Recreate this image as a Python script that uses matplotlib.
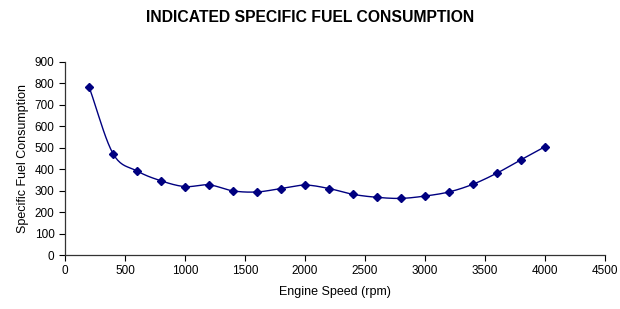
import numpy as np
import matplotlib
matplotlib.use("Agg")
import matplotlib.pyplot as plt

speed_rpm = [200, 400, 600, 800, 1000, 1200, 1400, 1600, 1800, 2000,
             2200, 2400, 2600, 2800, 3000, 3200, 3400, 3600, 3800, 4000]
sfc = [785, 473, 392, 346, 319, 327, 299, 294, 310, 326,
       310, 283, 269, 264, 275, 294, 330, 382, 444, 505]
x_ticks = list(range(0, 4501, 500))
y_ticks = list(range(0, 901, 100))

plt.rcParams['font.family'] = ['Liberation Sans', 'DejaVu Sans']


def smooth(xs, ys, n=20):
    # Catmull-Rom style curve through the points (Excel "smoothed line")
    xs = np.asarray(xs, float); ys = np.asarray(ys, float)
    px = np.concatenate([[2*xs[0]-xs[1]], xs, [2*xs[-1]-xs[-2]]])
    py = np.concatenate([[2*ys[0]-ys[1]], ys, [2*ys[-1]-ys[-2]]])
    ox, oy = [], []
    t = np.linspace(0, 1, n, endpoint=False)
    for i in range(1, len(px)-2):
        for arr, out in ((px, ox), (py, oy)):
            p0, p1, p2, p3 = arr[i-1], arr[i], arr[i+1], arr[i+2]
            c1 = p1 + (p2 - p0) / 6
            c2 = p2 - (p3 - p1) / 6
            out.extend((1-t)**3*p1 + 3*(1-t)**2*t*c1 + 3*(1-t)*t**2*c2 + t**3*p2)
    ox.append(xs[-1]); oy.append(ys[-1])
    return ox, oy


fig = plt.figure(figsize=(6.2, 3.09), dpi=100)
ax = fig.add_axes([65/620, 1-255/309, 540/620, 193/309])

sx, sy = smooth(speed_rpm, sfc)
ax.plot(sx, sy, color='#000080', lw=1.0)
ax.plot(speed_rpm, sfc, linestyle='none', marker='D', markersize=4.5, color='#000080')

ax.set_xlim(0, 4500)
ax.set_ylim(0, 900)
ax.set_xticks(x_ticks)
ax.set_yticks(y_ticks)
ax.tick_params(labelsize=8.5, direction='out', length=4, width=0.8, colors='black')
for s in ['top', 'right']:
    ax.spines[s].set_visible(False)
for s in ['left', 'bottom']:
    ax.spines[s].set_color('#333333')
    ax.spines[s].set_linewidth(0.9)

ax.set_xlabel('Engine Speed (rpm)', fontsize=9, labelpad=6)
ax.set_ylabel('Specific Fuel Consumption', fontsize=9, labelpad=4)
fig.text(0.5, 1-18/309, 'INDICATED SPECIFIC FUEL CONSUMPTION', ha='center', va='center',
         fontsize=11.3, fontweight='bold')

fig.savefig('out.png', dpi=100)
